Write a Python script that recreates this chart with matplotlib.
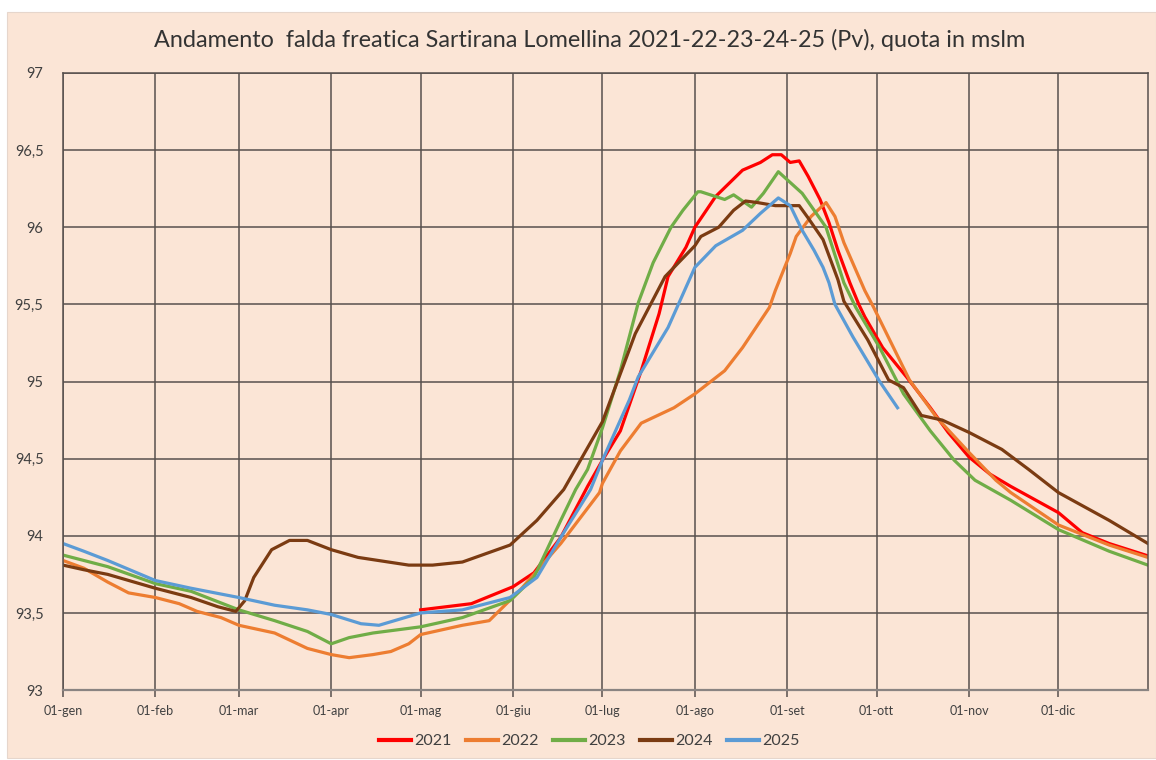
import matplotlib
matplotlib.use("Agg")
import matplotlib.pyplot as plt
from matplotlib.patches import Rectangle
from matplotlib.ticker import FuncFormatter

plt.rcParams['font.family'] = ['Lato', 'DejaVu Sans']

# day of year (0 = 01-gen) and water level in m s.l.m.
d2021 = [120, 137, 151, 158, 167, 176, 181, 187, 194, 200, 203, 209, 212, 219, 228, 234, 238, 241,
         244, 247, 250, 254, 257, 260, 264, 267, 269, 275, 283, 291, 297, 304, 311, 318, 334, 342, 351, 364]
v2021 = [93.52, 93.56, 93.67, 93.76, 93.99, 94.32, 94.49, 94.68, 95.07, 95.44, 95.68, 95.87, 96.00, 96.20,
         96.37, 96.42, 96.47, 96.47, 96.42, 96.43, 96.33, 96.18, 96.03, 95.85, 95.64, 95.50, 95.42, 95.22,
         95.03, 94.83, 94.67, 94.51, 94.40, 94.32, 94.15, 94.02, 93.95, 93.87]

d2022 = [0, 7, 15, 22, 31, 39, 45, 53, 59, 71, 82, 90, 96, 104, 110, 116, 120, 134, 143, 153, 167, 180,
         181, 187, 194, 205, 212, 222, 228, 237, 239, 244, 246, 251, 256, 259, 262, 269, 272, 284, 293, 304,
         313, 318, 334, 351, 364]
v2022 = [93.84, 93.79, 93.70, 93.63, 93.60, 93.56, 93.51, 93.47, 93.42, 93.37, 93.27, 93.23, 93.21, 93.23,
         93.25, 93.30, 93.36, 93.42, 93.45, 93.64, 93.95, 94.28, 94.34, 94.55, 94.73, 94.83, 94.92, 95.07,
         95.22, 95.48, 95.59, 95.83, 95.94, 96.07, 96.16, 96.07, 95.90, 95.59, 95.48, 95.01, 94.77, 94.54,
         94.36, 94.28, 94.07, 93.94, 93.86]

d2023 = [0, 9, 15, 31, 43, 59, 71, 82, 90, 96, 104, 120, 134, 150, 158, 167, 172, 176, 181, 187, 193, 198,
         204, 208, 213, 214, 222, 225, 231, 235, 240, 244, 248, 252, 256, 262, 266, 274, 282, 291, 299, 306,
         318, 334, 351, 364]
v2023 = [93.875, 93.83, 93.80, 93.69, 93.64, 93.52, 93.45, 93.38, 93.30, 93.34, 93.37, 93.41, 93.47, 93.58,
         93.73, 94.10, 94.30, 94.43, 94.70, 95.07, 95.51, 95.77, 96.00, 96.11, 96.23, 96.23, 96.18, 96.21,
         96.13, 96.22, 96.36, 96.29, 96.22, 96.11, 96.00, 95.64, 95.48, 95.22, 94.92, 94.68, 94.49, 94.36,
         94.23, 94.04, 93.90, 93.81]

d2024 = [0, 7, 15, 31, 43, 52, 58, 61, 64, 70, 76, 82, 90, 99, 116, 124, 134, 150, 159, 168, 181, 192, 202,
         212, 214, 220, 225, 229, 233, 239, 247, 250, 255, 260, 262, 270, 277, 282, 288, 295, 304, 315, 324,
         334, 351, 364]
v2024 = [93.81, 93.78, 93.75, 93.66, 93.60, 93.54, 93.51, 93.58, 93.73, 93.91, 93.97, 93.97, 93.91, 93.86,
         93.81, 93.81, 93.83, 93.94, 94.10, 94.30, 94.74, 95.31, 95.68, 95.88, 95.94, 96.00, 96.11, 96.17,
         96.16, 96.14, 96.14, 96.06, 95.92, 95.66, 95.52, 95.27, 95.01, 94.96, 94.78, 94.75, 94.67, 94.56,
         94.43, 94.28, 94.10, 93.95]

d2025 = [0, 7, 15, 31, 43, 59, 71, 82, 90, 100, 106, 120, 134, 150, 159, 167, 177, 181, 190, 193, 203, 212,
         219, 228, 234, 240, 244, 248, 252, 255, 257, 259, 265, 274, 280]
v2025 = [93.95, 93.90, 93.84, 93.71, 93.66, 93.60, 93.55, 93.52, 93.49, 93.43, 93.42, 93.50, 93.52, 93.60,
         93.73, 93.99, 94.30, 94.49, 94.88, 95.03, 95.35, 95.74, 95.88, 95.98, 96.09, 96.19, 96.14, 95.98,
         95.85, 95.74, 95.64, 95.50, 95.29, 95.00, 94.83]

month_days = [0, 31, 59, 90, 120, 151, 181, 212, 243, 273, 304, 334]
month_labels = ['01-gen', '01-feb', '01-mar', '01-apr', '01-mag', '01-giu',
                '01-lug', '01-ago', '01-set', '01-ott', '01-nov', '01-dic']

series = [
    ('2021', d2021, v2021, '#ff0000'),
    ('2022', d2022, v2022, '#ed7d31'),
    ('2023', d2023, v2023, '#70ad47'),
    ('2024', d2024, v2024, '#7b3b12'),
    ('2025', d2025, v2025, '#5b9bd5'),
]

peach = '#fbe5d6'
grid_col = '#57504d'

fig = plt.figure(figsize=(11.56, 7.6), dpi=100, facecolor='white')
bg = Rectangle((0.006, 0.003), 0.994, 0.981, transform=fig.transFigure,
               facecolor=peach, edgecolor='#e6d6cc', linewidth=0.8, zorder=-10)
fig.add_artist(bg)

ax = fig.add_axes([0.0545, 0.092, 0.9385, 0.812])
ax.set_facecolor(peach)

for name, d, v, c in series:
    ax.plot(d, v, color=c, linewidth=2.3, label=name, solid_joinstyle='round')

ax.set_xlim(0, 364)
ax.set_ylim(93, 97)
ax.set_xticks(month_days)
ax.set_xticklabels(month_labels)
ax.set_yticks([93, 93.5, 94, 94.5, 95, 95.5, 96, 96.5, 97])
ax.yaxis.set_major_formatter(FuncFormatter(lambda y, p: ('%g' % y).replace('.', ',')))

ax.grid(True, color=grid_col, linewidth=1.1)
ax.set_axisbelow(True)
for s in ax.spines.values():
    s.set_color(grid_col)
    s.set_linewidth(1.1)
ax.spines['bottom'].set_color('#8a8482')
ax.spines['bottom'].set_linewidth(1.6)

ax.tick_params(axis='x', length=5, width=1.1, color=grid_col, labelsize=9, labelcolor='#404040', pad=6)
ax.tick_params(axis='y', length=0, labelsize=10.5, labelcolor='#404040', pad=14)

fig.text(0.51, 0.947, 'Andamento  falda freatica Sartirana Lomellina 2021-22-23-24-25 (Pv), quota in mslm',
         ha='center', va='center', fontsize=16.8, color='#333333')

leg = fig.legend(loc='center', bbox_to_anchor=(0.51, 0.025), ncol=5, frameon=False,
                 fontsize=11.5, handlelength=2.0, handletextpad=0.2, columnspacing=0.9,
                 labelcolor='#404040')
for h in leg.legend_handles:
    h.set_linewidth(3)

fig.savefig('out.png', dpi=100, facecolor='white')
